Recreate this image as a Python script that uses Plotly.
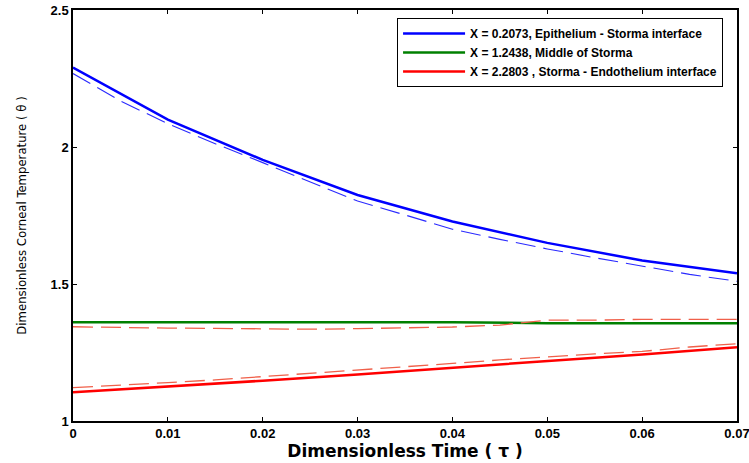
import plotly.graph_objects as go

# ---- data ----
tau_solid = [0.0, 0.01, 0.02, 0.03, 0.04, 0.05, 0.06, 0.07]
blue_solid = [2.29, 2.10, 1.953, 1.825, 1.728, 1.650, 1.586, 1.539]
green_solid = [1.360, 1.360, 1.360, 1.360, 1.360, 1.357, 1.357, 1.357]
red_solid = [1.105, 1.125, 1.147, 1.170, 1.194, 1.218, 1.243, 1.269]

tau_dash = [0.0, 0.005, 0.01, 0.015, 0.02, 0.025, 0.03, 0.035,
            0.04, 0.045, 0.05, 0.055, 0.06, 0.065, 0.07]
blue_dash = [2.268, 2.168, 2.085, 2.012, 1.943, 1.873, 1.803, 1.752,
             1.700, 1.663, 1.628, 1.596, 1.565, 1.535, 1.510]
red_dash_upper = [1.344, 1.341, 1.339, 1.338, 1.336, 1.335, 1.337, 1.340,
                  1.343, 1.350, 1.368, 1.368, 1.371, 1.371, 1.371]
red_dash_lower = [1.122, 1.130, 1.140, 1.150, 1.162, 1.172, 1.185, 1.198,
                  1.210, 1.223, 1.235, 1.245, 1.254, 1.270, 1.282]

legend_names = [
    "X = 0.2073, Epithelium - Storma interface",
    "X = 1.2438, Middle of Storma",
    "X = 2.2803 , Storma - Endothelium interface",
]
x_ticks = [0, 0.01, 0.02, 0.03, 0.04, 0.05, 0.06, 0.07]
x_ticklabels = ["0", "0.01", "0.02", "0.03", "0.04", "0.05", "0.06", "0.07"]
y_ticks = [1, 1.5, 2, 2.5]
y_ticklabels = ["1", "1.5", "2", "2.5"]

fig = go.Figure()

fig.add_trace(go.Scatter(x=tau_solid, y=blue_solid, mode="lines", name=legend_names[0],
                         line=dict(color="#0000ff", width=2.5)))
fig.add_trace(go.Scatter(x=tau_solid, y=green_solid, mode="lines", name=legend_names[1],
                         line=dict(color="#008000", width=2.5)))
fig.add_trace(go.Scatter(x=tau_solid, y=red_solid, mode="lines", name=legend_names[2],
                         line=dict(color="#ff0000", width=2.5)))

dash_style = "20px,8px"
fig.add_trace(go.Scatter(x=tau_dash, y=blue_dash, mode="lines", showlegend=False,
                         line=dict(color="#2a2aff", width=1.1, dash=dash_style)))
fig.add_trace(go.Scatter(x=tau_dash, y=red_dash_upper, mode="lines", showlegend=False,
                         line=dict(color="#f0604a", width=1.3, dash=dash_style)))
fig.add_trace(go.Scatter(x=tau_dash, y=red_dash_lower, mode="lines", showlegend=False,
                         line=dict(color="#f0604a", width=1.3, dash=dash_style)))

axis_common = dict(
    showgrid=False, zeroline=False, showline=True, linecolor="black", linewidth=1.5,
    mirror="ticks", ticks="inside", ticklen=4, tickcolor="black", tickwidth=1,
    automargin=False, ticklabeloverflow="allow",
    tickfont=dict(family="Liberation Sans, Arial, sans-serif", size=13, color="black", weight="bold"),
)

fig.update_layout(
    width=749, height=463,
    margin=dict(l=73, r=12, t=10, b=42),
    paper_bgcolor="white", plot_bgcolor="white",
    xaxis=dict(range=[0, 0.07], tickvals=x_ticks, ticktext=x_ticklabels,
               title=dict(text="Dimensionless Time ( τ )", standoff=5,
                          font=dict(family="DejaVu Sans, Liberation Sans, sans-serif", size=17,
                                    color="black", weight="bold")),
               **axis_common),
    yaxis=dict(range=[1, 2.5], tickvals=y_ticks, ticktext=y_ticklabels,
               title=dict(text="Dimensionless Corneal Temperature ( θ )", standoff=21,
                          font=dict(family="DejaVu Sans Condensed, Liberation Sans, Arial, sans-serif",
                                    size=13, color="black")),
               **axis_common),
    legend=dict(x=0.979, y=0.9805, xanchor="right", yanchor="top",
                bgcolor="white", bordercolor="black", borderwidth=1,
                itemwidth=62, tracegroupgap=0,
                font=dict(family="Liberation Sans, Arial, sans-serif",
                          size=12, color="black", weight="bold")),
    showlegend=True,
)

fig.write_html("out.html")
